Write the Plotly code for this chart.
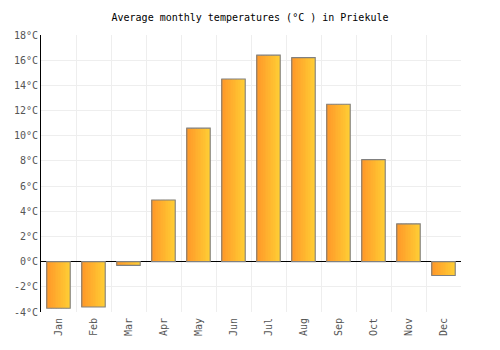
import plotly.graph_objects as go

months = ["Jan", "Feb", "Mar", "Apr", "May", "Jun", "Jul", "Aug", "Sep", "Oct", "Nov", "Dec"]
temps = [-3.7, -3.6, -0.3, 4.9, 10.6, 14.5, 16.4, 16.2, 12.5, 8.1, 3.0, -1.1]
y_ticks = list(range(-4, 19, 2))
y_labels = [f"{v}°C" for v in y_ticks]

BAR_W = 0.67
N = 14
c0 = (255, 152, 40)
c1 = (255, 204, 52)

fig = go.Figure()
sw = BAR_W / N
for i in range(N):
    t = i / (N - 1)
    col = "rgb(%d,%d,%d)" % tuple(round(a + (b - a) * t) for a, b in zip(c0, c1))
    fig.add_trace(go.Bar(
        x=months, y=temps, width=sw * 1.05, offset=-BAR_W / 2 + i * sw,
        marker=dict(color=col, line=dict(width=0)), hoverinfo="skip", showlegend=False))
fig.add_trace(go.Bar(
    x=months, y=temps, width=BAR_W, offset=-BAR_W / 2,
    marker=dict(color="rgba(0,0,0,0)", line=dict(color="#808080", width=1.1)),
    showlegend=False))

mono = "DejaVu Sans Mono"
fig.update_layout(
    width=500, height=350, barmode="overlay",
    margin=dict(l=41, r=39, t=35, b=38),
    paper_bgcolor="white", plot_bgcolor="white",
    title=dict(text="Average monthly temperatures (°C ) in Priekule", x=0.5, xanchor="center",
               y=1 - 17 / 350, yanchor="middle", font=dict(family=mono, size=10, color="#000")),
    font=dict(family=mono, size=10, color="#555"),
    xaxis=dict(type="category", tickson="boundaries", showgrid=True, gridcolor="#eeeeee",
               gridwidth=1, tickangle=-90, ticks="", showline=False, zeroline=False,
               ticklabelstandoff=3,
               range=[-0.5, 11.5], tickfont=dict(family=mono, size=10, color="#555")),
    yaxis=dict(range=[-4, 18], tickvals=y_ticks, ticktext=y_labels, showgrid=True,
               gridcolor="#eeeeee", gridwidth=1, zeroline=True, zerolinecolor="#000",
               zerolinewidth=1, showline=True, linecolor="#000", linewidth=1, ticks="",
               tickfont=dict(family=mono, size=10, color="#555")),
)
fig.write_html("out.html")
